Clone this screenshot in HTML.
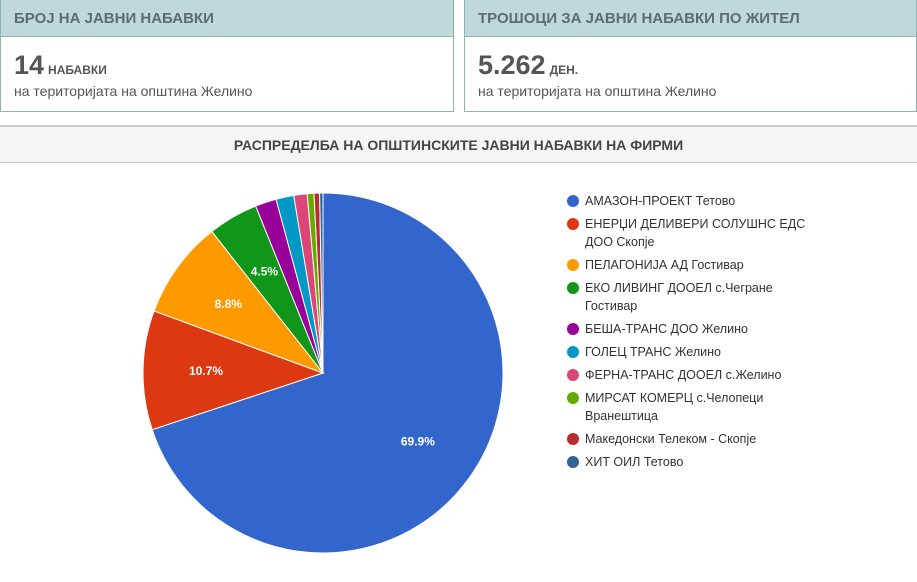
<!DOCTYPE html>
<html><head><meta charset="utf-8"><style>
body{margin:0;width:917px;height:582px;background:#fff;font-family:"Liberation Sans",sans-serif;position:relative;overflow:hidden;color:#555}
.card{position:absolute;top:0;height:112px;border:1px solid #8fb3b3;border-top:none;box-sizing:border-box;background:#fff}
.card .hd{height:37px;background:#bfd9d9;border-bottom:1px solid #8fb3b3;font-weight:bold;font-size:15px;color:#5a6e6e;line-height:37px;padding-left:13px;box-sizing:border-box}
.big{position:absolute;left:13px;top:50px;font-size:27px;font-weight:bold;color:#555}
.big small{font-size:12px;margin-left:4px}
.sub{position:absolute;left:13px;top:83px;font-size:14px;color:#555}
.bar{position:absolute;left:0;top:125px;width:917px;height:38px;background:#f5f5f5;border-top:2px solid #ccc;border-bottom:1px solid #ccc;box-sizing:border-box;text-align:center;line-height:36px;font-weight:bold;font-size:14px;color:#444}
.leg{position:absolute;left:567px;font-size:12.5px;color:#333;line-height:18px}
.leg i{position:absolute;left:0;top:3px;width:12px;height:12px;border-radius:50%}
.leg span{display:block;margin-left:18px}
</style></head><body>
<div class="card" style="left:0;width:454px">
<div class="hd">БРОЈ НА ЈАВНИ НАБАВКИ</div>
<div class="big">14<small>НАБАВКИ</small></div>
<div class="sub">на територијата на општина Желино</div>
</div>
<div class="card" style="left:464px;width:453px">
<div class="hd">ТРОШОЦИ ЗА ЈАВНИ НАБАВКИ ПО ЖИТЕЛ</div>
<div class="big">5.262<small>ДЕН.</small></div>
<div class="sub">на територијата на општина Желино</div>
</div>
<div class="bar">РАСПРЕДЕЛБА НА ОПШТИНСКИТЕ ЈАВНИ НАБАВКИ НА ФИРМИ</div>
<svg id="pie" width="917" height="582" style="position:absolute;left:0;top:0"></svg>
<div id="legend"></div>
<script>
const categories=["АМАЗОН-ПРОЕКТ Тетово","ЕНЕРЏИ ДЕЛИВЕРИ СОЛУШНС ЕДС ДОО Скопје","ПЕЛАГОНИЈА АД Гостивар","ЕКО ЛИВИНГ ДООЕЛ с.Чегране Гостивар","БЕША-ТРАНС ДОО Желино","ГОЛЕЦ ТРАНС Желино","ФЕРНА-ТРАНС ДООЕЛ с.Желино","МИРСАТ КОМЕРЦ с.Челопеци Вранештица","Македонски Телеком - Скопје","ХИТ ОИЛ Тетово"];
const values=[69.9,10.7,8.8,4.5,1.9,1.6,1.2,0.6,0.5,0.3];
const colors=["#3366cc","#dc3912","#ff9900","#109618","#990099","#0099c6","#dd4477","#66aa00","#b82e2e","#316395"];
const legendLines=[["АМАЗОН-ПРОЕКТ Тетово"],["ЕНЕРЏИ ДЕЛИВЕРИ СОЛУШНС ЕДС","ДОО Скопје"],["ПЕЛАГОНИЈА АД Гостивар"],["ЕКО ЛИВИНГ ДООЕЛ с.Чегране","Гостивар"],["БЕША-ТРАНС ДОО Желино"],["ГОЛЕЦ ТРАНС Желино"],["ФЕРНА-ТРАНС ДООЕЛ с.Желино"],["МИРСАТ КОМЕРЦ с.Челопеци","Вранештица"],["Македонски Телеком - Скопје"],["ХИТ ОИЛ Тетово"]];
const svg=document.getElementById('pie'),NS="http://www.w3.org/2000/svg";
const cx=323,cy=373,r=180,total=values.reduce((a,b)=>a+b,0);
function pt(a,rr){return [cx+rr*Math.sin(a),cy-rr*Math.cos(a)];}
let a0=0;
values.forEach((v,i)=>{
 const a1=a0+v/total*2*Math.PI;
 const p0=pt(a0,r),p1=pt(a1,r);
 const p=document.createElementNS(NS,'path');
 p.setAttribute('d',`M${cx},${cy}L${p0[0]},${p0[1]}A${r},${r} 0 ${a1-a0>Math.PI?1:0} 1 ${p1[0]},${p1[1]}Z`);
 p.setAttribute('fill',colors[i]);p.setAttribute('stroke','#fff');p.setAttribute('stroke-width','1');
 
 
 svg.appendChild(p);
 if(v/total>0.04){
  const m=pt((a0+a1)/2,r*0.65);
  const t=document.createElementNS(NS,'text');
  t.setAttribute('x',m[0]);t.setAttribute('y',m[1]+4);t.setAttribute('text-anchor','middle');
  t.setAttribute('font-size','12');t.setAttribute('font-weight','bold');t.setAttribute('fill','#fff');
  t.setAttribute('font-family','Liberation Sans, sans-serif');
  t.textContent=v.toFixed(1)+'%';
  
  
  svg.appendChild(t);
 }
 a0=a1;
});
const lg=document.getElementById('legend');let y=192;
categories.forEach((c,i)=>{
 const d=document.createElement('div');d.className='leg';d.style.top=y+'px';
 
 
 d.innerHTML='<i style="background:'+colors[i]+'"></i><span>'+legendLines[i].join('<br>')+'</span>';
 lg.appendChild(d);y+=legendLines[i].length>1?41:23;
});
</script>
</body></html>
